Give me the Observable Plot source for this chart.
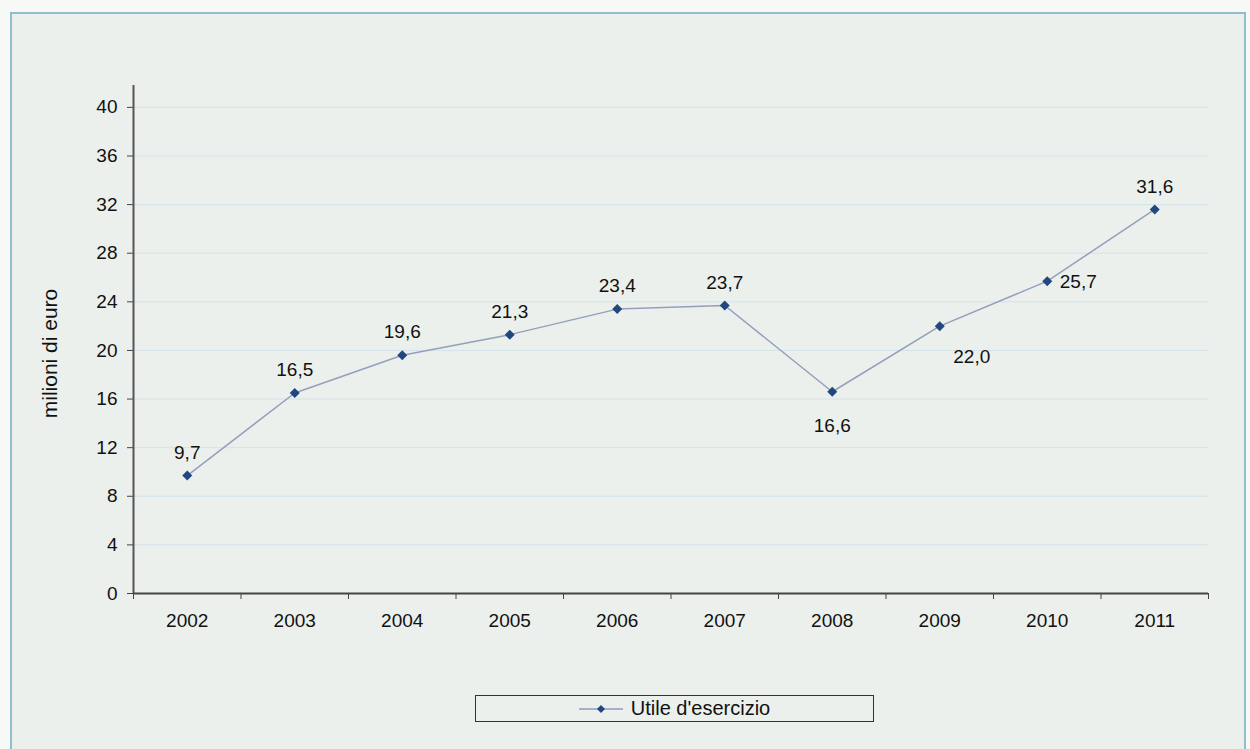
<!DOCTYPE html>
<html><head><meta charset="utf-8">
<script src="https://cdn.jsdelivr.net/npm/d3@7"></script>
<script src="https://cdn.jsdelivr.net/npm/@observablehq/plot@0.6"></script>
<style>
body{margin:0;background:#f7f9f7;font-family:Arial,"Liberation Sans",sans-serif;}
#frame{position:absolute;left:10px;top:12px;width:1236px;height:740px;border:2px solid #8fbfcb;background:#ebf0ec;box-sizing:border-box;}
#chart{position:absolute;left:0;top:0;}
#legend{position:absolute;left:475px;top:695px;width:399px;height:27px;border:1.5px solid #333;box-sizing:border-box;display:flex;align-items:center;justify-content:center;font-size:20px;color:#111;}
#legend svg{margin-right:8px;}
</style></head>
<body>
<div id="frame"></div>
<div id="chart"></div>
<div id="legend"><svg width="44" height="10"><line x1="0" y1="5" x2="44" y2="5" stroke="#8d9cbc" stroke-width="1.5"/><path d="M22 1 L26 5 L22 9 L18 5 Z" fill="#22477f"/></svg>Utile d'esercizio</div>
<script>
const years = [2002, 2003, 2004, 2005, 2006, 2007, 2008, 2009, 2010, 2011];
const values = [9.7, 16.5, 19.6, 21.3, 23.4, 23.7, 16.6, 22.0, 25.7, 31.6];
const labelPos = ["top", "top", "top", "top", "top", "top", "bottom", "bottom-right", "right", "top"];
const yTicks = [0, 4, 8, 12, 16, 20, 24, 28, 32, 36, 40];
const bandEdges = [2001.5, 2002.5, 2003.5, 2004.5, 2005.5, 2006.5, 2007.5, 2008.5, 2009.5, 2010.5, 2011.5];

const data = years.map((y, i) => ({year: y, value: values[i], pos: labelPos[i], label: values[i].toFixed(1).replace(".", ",")}));
const fmt = d => String(d);
const FS = 19;

const chart = Plot.plot({
  width: 1250,
  height: 680,
  marginLeft: 133,
  marginRight: 42,
  marginTop: 85,
  marginBottom: 87,
  style: {fontFamily: "Arial, 'Liberation Sans', sans-serif", fontSize: FS + "px", color: "#111", background: "transparent"},
  x: {domain: [2001.5, 2011.5]},
  y: {domain: [0, 41.8]},
  marks: [
    Plot.gridY(yTicks, {stroke: "#d3e3ea", strokeOpacity: 1, strokeWidth: 1}),
    Plot.axisY(yTicks, {tickSize: 6, tickPadding: 10, stroke: "#444", fontSize: FS, fill: "#111", label: null}),
    Plot.text(["milioni di euro"], {frameAnchor: "left", textAnchor: "middle", dx: -83, dy: 14, rotate: -90, fontSize: 21, fill: "#111"}),
    Plot.axisX(years, {tickSize: 0, tickPadding: 20, tickFormat: fmt, fontSize: FS, fill: "#111", label: null}),
    Plot.axisX(bandEdges, {tickSize: 6, tickFormat: () => "", stroke: "#444", label: null}),
    Plot.ruleX([2001.5], {stroke: "#555", strokeWidth: 2}),
    Plot.ruleY([0], {stroke: "#444", strokeWidth: 2}),
    Plot.line(data, {x: "year", y: "value", stroke: "#949fbd", strokeWidth: 1.5}),
    Plot.dot(data, {x: "year", y: "value", symbol: "diamond2", r: 4.5, fill: "#22477f", stroke: "none"}),
    Plot.text(data.filter(d => d.pos === "top"), {x: "year", y: "value", text: "label", dy: -23, fontSize: FS, fill: "#111"}),
    Plot.text(data.filter(d => d.pos === "bottom"), {x: "year", y: "value", text: "label", dy: 34, fontSize: FS, fill: "#111"}),
    Plot.text(data.filter(d => d.pos === "bottom-right"), {x: "year", y: "value", text: "label", dx: 32, dy: 31, fontSize: FS, fill: "#111"}),
    Plot.text(data.filter(d => d.pos === "right"), {x: "year", y: "value", text: "label", dx: 31, dy: 1, fontSize: FS, fill: "#111"})
  ]
});
document.getElementById("chart").appendChild(chart);
</script>
</body></html>
